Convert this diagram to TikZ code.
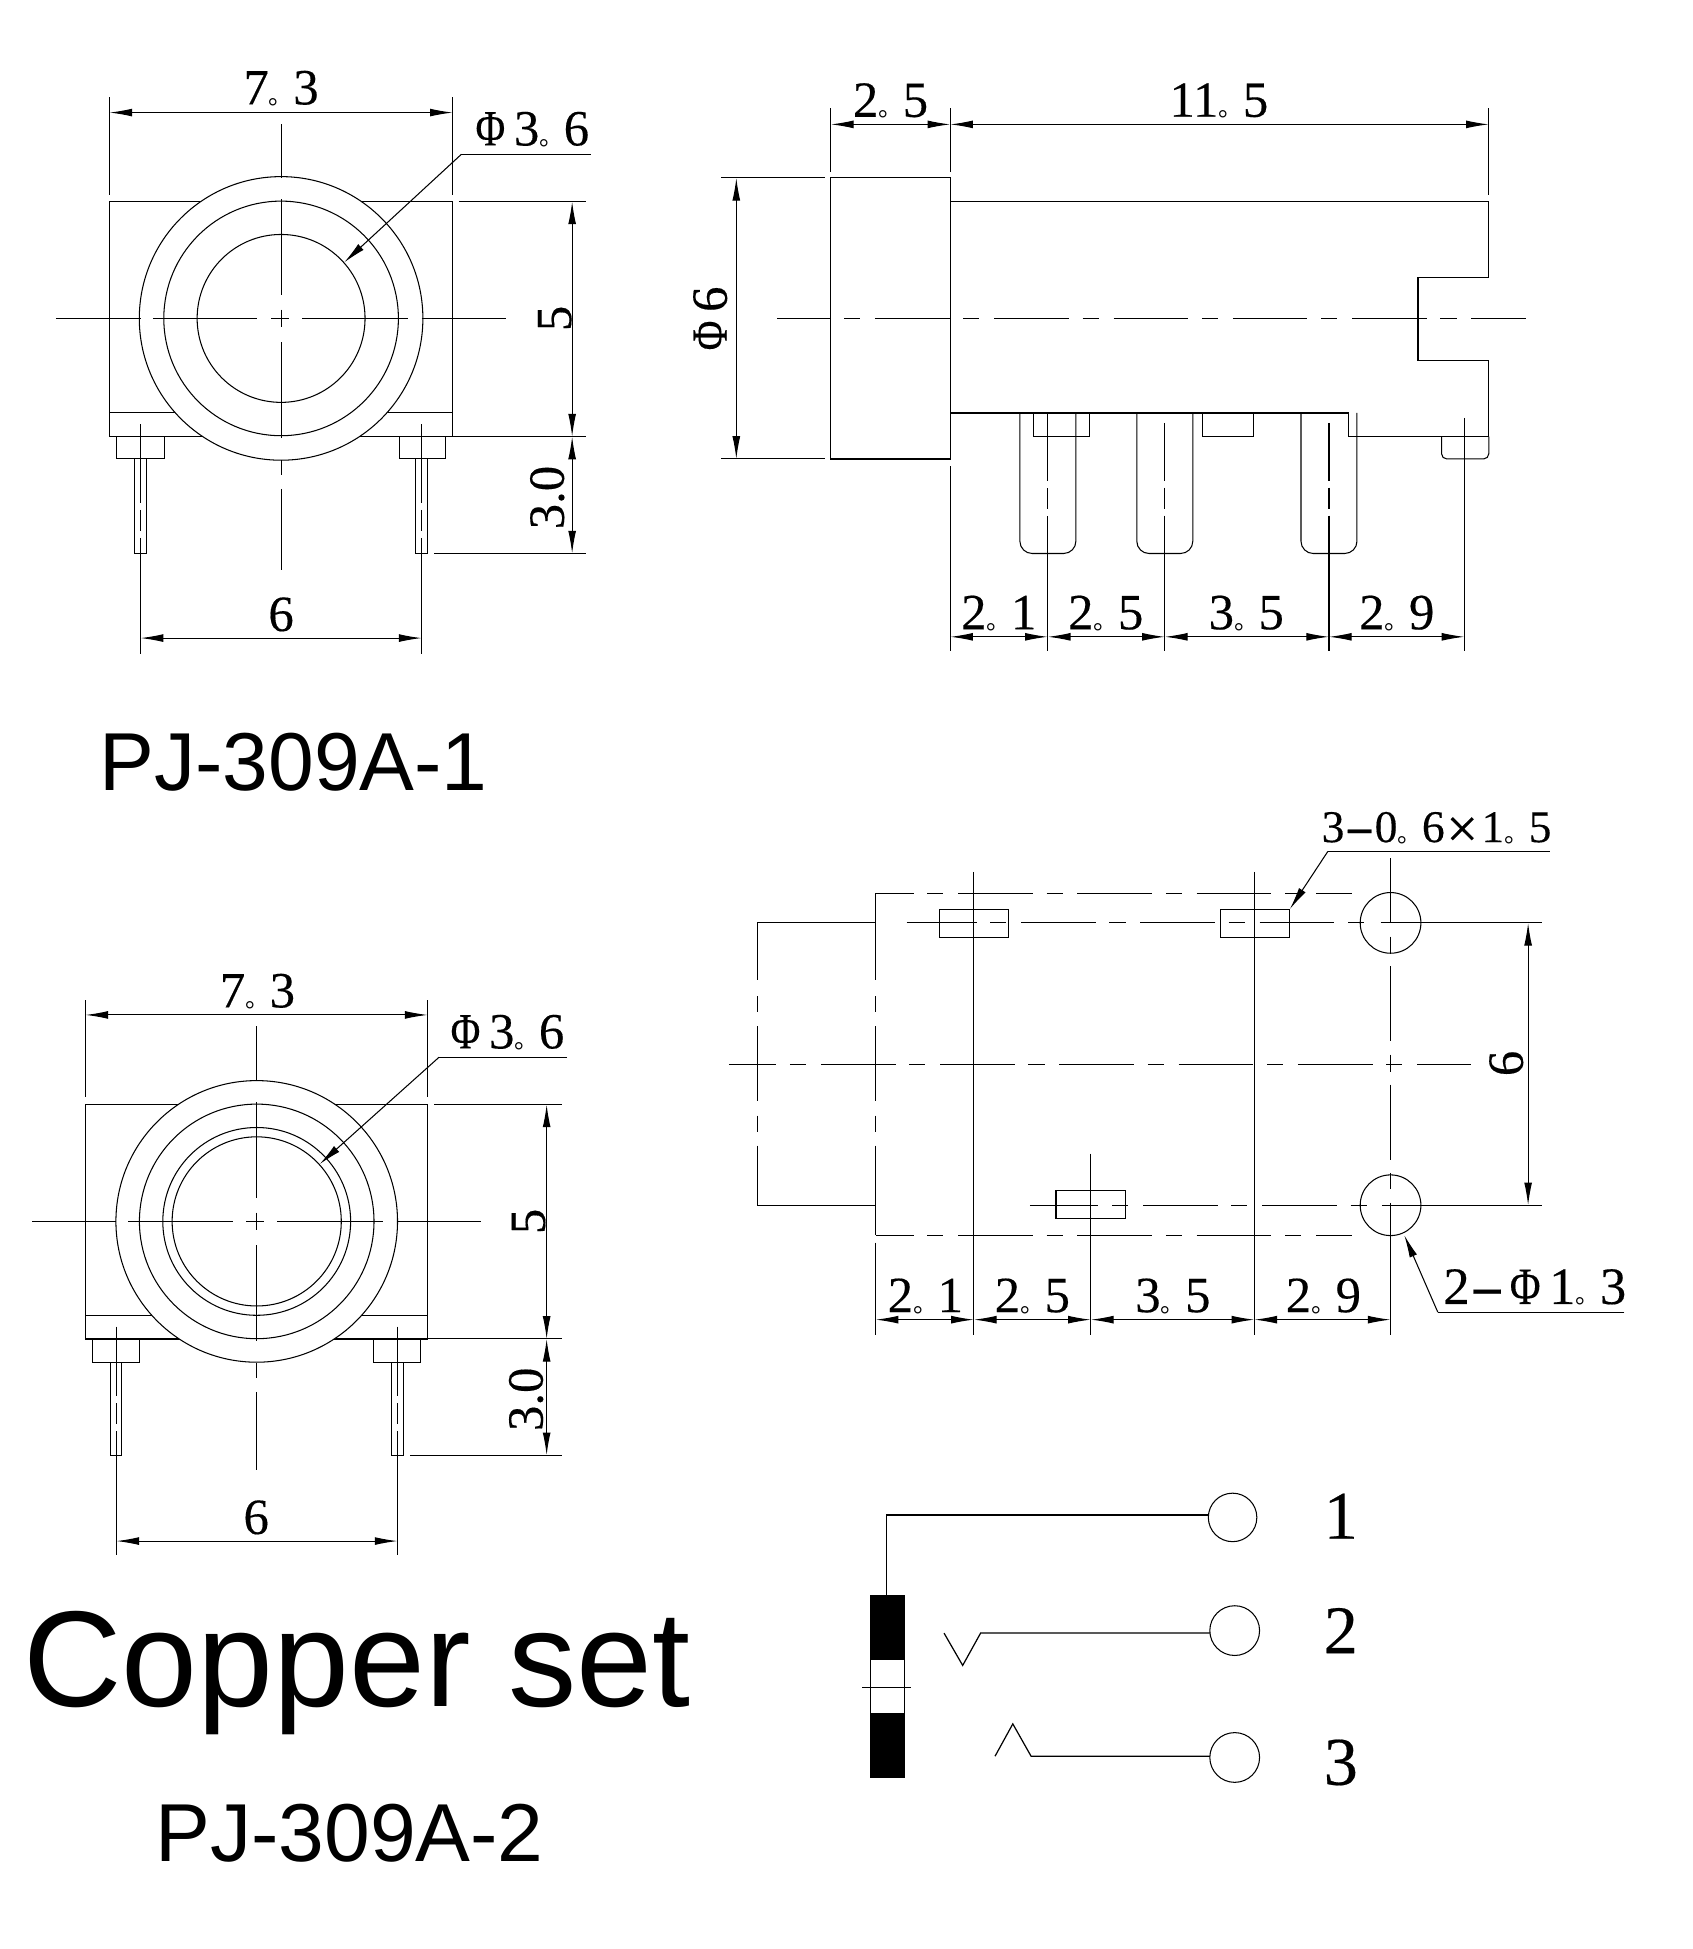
\documentclass[tikz,border=0pt]{standalone}
\usepackage{fontspec}
\setmainfont{Liberation Serif}
\newfontfamily\titlefont{Liberation Sans}
\newfontfamily\dimfont[FakeBold=0.3]{Liberation Serif}
\newfontfamily\cjkfont{Noto Sans CJK SC}
\usetikzlibrary{arrows.meta}
\newcommand{\dotmark}{{\cjkfont\fontsize{14}{14}\selectfont 。}}
\newcommand{\phimark}{\scalebox{0.8}[1]{Φ}\kern5pt}
\newcommand{\hyphmark}{\scalebox{2}[1]{-}}
\tikzset{
    partline/.style={line width=0.7pt},
    thinline/.style={line width=0.6pt},
    dimline/.style={line width=0.6pt, {Latex[length=13pt,width=4.5pt]}-{Latex[length=13pt,width=4.5pt]}},
    leaderline/.style={line width=0.6pt, -{Latex[length=13pt,width=4.5pt]}},
    centerline/.style={line width=0.6pt, dash pattern=on 42.7pt off 7.8pt on 9.2pt off 8.5pt},
    pinaxis/.style={line width=0.6pt, dash pattern=on #1 off 4pt on 12pt off 4pt on 120pt off 0pt},
    dimtext/.style={font=\dimfont\fontsize{29}{29}\selectfont, inner sep=0pt},
    pintext/.style={font=\dimfont\fontsize{39}{39}\selectfont, inner sep=0pt},
    titletext/.style={font=\titlefont\fontsize{47}{47}\selectfont, inner sep=0pt}
}
\begin{document}
\begin{tikzpicture}[x=0.025cm, y=-0.025cm]
    \useasboundingbox (0, 0) rectangle (1361, 1567);

    % front view, first version
    \draw[partline] (88, 162) rectangle (364, 351);
    \draw[thinline] (88, 332) -- (364, 332);
    \draw[thinline, fill=white] (226, 256) circle [radius=114];
    \draw[thinline] (226, 256) circle [radius=94.3];
    \draw[thinline] (226, 256) circle [radius=67.5];
    \draw[thinline] (94, 351) rectangle (132, 369);
    \draw[thinline] (321, 351) rectangle (358, 369);
    \draw[thinline] (108, 369) rectangle (118, 445);
    \draw[thinline] (334, 369) rectangle (344, 445);
    \foreach \ya/\yb in {100/143, 160/237, 249/263, 275/352, 370/382, 393/458} {
        \draw[thinline] (226, \ya) -- (226, \yb);
    }
    \foreach \xa/\xb in {45/113, 123/207, 218/232, 243/328, 339/407} {
        \draw[thinline] (\xa, 256) -- (\xb, 256);
    }
    \draw[pinaxis=45pt] (113, 341) -- (113, 526);
    \draw[pinaxis=45pt] (339, 341) -- (339, 526);
    \draw[thinline] (88, 78) -- (88, 157);
    \draw[thinline] (364, 78) -- (364, 157);
    \draw[thinline] (369, 162) -- (471, 162);
    \draw[thinline] (364, 351) -- (471, 351);
    \draw[thinline] (349, 445) -- (471, 445);
    \draw[dimline] (88, 90.5) -- (364, 90.5);
    \draw[dimline] (460, 162) -- (460, 351);
    \draw[dimline] (460, 351) -- (460, 445);
    \draw[dimline] (113, 513) -- (339, 513);
    \draw[thinline] (475, 124) -- (371, 124);
    \draw[leaderline] (371, 124) -- (276.7, 211);
    \node[dimtext] (widthA) at (226, 71) {7\dotmark 3};
    \node[dimtext] (boreA) at (428, 104) {\phimark 3\dotmark 6};
    \node[dimtext, rotate=90] (heightA) at (446, 256) {5};
    \node[dimtext, rotate=90] (pinA) at (440, 400) {3.0};
    \node[dimtext] (spanA) at (226, 494) {6};
    \node[titletext] (titleA) at (236, 613) {PJ-309A-1};

    % side view
    \draw[partline] (668, 143) rectangle (764, 369);
    \draw[partline] (764, 162) -- (1197, 162) -- (1197, 223) -- (1140, 223) -- (1140, 290)
        -- (1197, 290) -- (1197, 351) -- (1084, 351) -- (1084, 332) -- (764, 332);
    \draw[thinline, rounded corners=3pt] (1159, 351) -- (1159, 369) -- (1197, 369) -- (1197, 351);
    \draw[thinline] (831, 332) rectangle (876, 351);
    \draw[thinline] (967, 332) rectangle (1008, 351);
    \foreach \pinx in {820, 914, 1046} {
        \draw[thinline, rounded corners=7pt] (\pinx, 332) -- (\pinx, 445) -- (\pinx+45, 445) -- (\pinx+45, 332);
    }
    \draw[centerline, dash phase=12.4pt] (625, 256) -- (1227, 256);
    \draw[pinaxis=39pt] (842.4, 332) -- (842.4, 523);
    \draw[pinaxis=33pt] (936.5, 340) -- (936.5, 523);
    \draw[pinaxis=33pt] (1068.5, 340) -- (1068.5, 523);
    \draw[thinline] (1177.4, 336) -- (1177.4, 523);
    \draw[thinline] (668, 87) -- (668, 138);
    \draw[thinline] (764, 87) -- (764, 138);
    \draw[thinline] (1197, 87) -- (1197, 157);
    \draw[thinline] (580, 143) -- (663, 143);
    \draw[thinline] (580, 369) -- (663, 369);
    \draw[thinline] (764, 375) -- (764, 523);
    \draw[dimline] (668, 100) -- (764, 100);
    \draw[dimline] (764, 100) -- (1197, 100);
    \draw[dimline] (592, 143) -- (592, 369);
    \draw[dimline] (764, 512) -- (842.4, 512);
    \draw[dimline] (842.4, 512) -- (936.5, 512);
    \draw[dimline] (936.5, 512) -- (1068.5, 512);
    \draw[dimline] (1068.5, 512) -- (1177.4, 512);
    \node[dimtext] (collar) at (716, 81) {2\dotmark 5};
    \node[dimtext] (body) at (980, 81) {11\dotmark 5};
    \node[dimtext, rotate=90] (head) at (571, 256) {\phimark 6};
    \node[dimtext] (sideA) at (803, 493) {2\dotmark 1};
    \node[dimtext] (sideB) at (889, 493) {2\dotmark 5};
    \node[dimtext] (sideC) at (1002, 493) {3\dotmark 5};
    \node[dimtext] (sideD) at (1123, 493) {2\dotmark 9};

    % front view, copper set
    \draw[partline] (68.7, 888) rectangle (343.8, 1076.5);
    \draw[thinline] (68.7, 1057.6) -- (343.8, 1057.6);
    \draw[thinline, fill=white] (206.4, 982) circle [radius=113.2];
    \draw[thinline] (206.4, 982) circle [radius=94.3];
    \draw[thinline] (206.4, 982) circle [radius=75.5];
    \draw[thinline] (206.4, 982) circle [radius=68];
    \draw[thinline] (74.4, 1076.5) rectangle (112.3, 1095.7);
    \draw[thinline] (300.2, 1076.5) rectangle (338.4, 1095.7);
    \draw[thinline] (88.7, 1095.7) rectangle (98, 1170);
    \draw[thinline] (314.8, 1095.7) rectangle (324.7, 1170);
    \foreach \ya/\yb in {825/869, 886/963, 975/989, 1001/1078, 1096/1108, 1119/1182} {
        \draw[thinline] (206.4, \ya) -- (206.4, \yb);
    }
    \foreach \xa/\xb in {26/93, 103/187, 198/212, 223/308, 319/387} {
        \draw[thinline] (\xa, 982) -- (\xb, 982);
    }
    \draw[pinaxis=40pt] (93.5, 1066.5) -- (93.5, 1250.6);
    \draw[pinaxis=40pt] (319.6, 1066.5) -- (319.6, 1250.6);
    \draw[thinline] (68.7, 804) -- (68.7, 882);
    \draw[thinline] (343.8, 804) -- (343.8, 882);
    \draw[thinline] (349, 888) -- (451.6, 888);
    \draw[thinline] (343.8, 1076.5) -- (451.6, 1076.5);
    \draw[thinline] (330, 1170) -- (451.6, 1170);
    \draw[dimline] (68.7, 816) -- (343.8, 816);
    \draw[dimline] (439.5, 888) -- (439.5, 1076.5);
    \draw[dimline] (439.5, 1076.5) -- (439.5, 1170);
    \draw[dimline] (93.5, 1239) -- (319.6, 1239);
    \draw[thinline] (456, 850) -- (353, 850);
    \draw[leaderline] (353, 850) -- (257, 936);
    \node[dimtext] (widthB) at (207, 797) {7\dotmark 3};
    \node[dimtext] (boreB) at (408, 830) {\phimark 3\dotmark 6};
    \node[dimtext, rotate=90] (heightB) at (425, 982) {5};
    \node[dimtext, rotate=90] (pinB) at (423, 1125) {3.0};
    \node[dimtext] (spanB) at (206, 1220) {6};
    \node[titletext, font=\titlefont\fontsize{78}{78}\selectfont, anchor=base] (copper) at (287, 1372) {Copper set};
    \node[titletext] (titleB) at (281, 1474) {PJ-309A-2};

    % footprint
    \draw[thinline] (704, 742) -- (609, 742);
    \draw[thinline] (704, 969) -- (609, 969);
    \foreach \ya/\yb in {742/788, 801/814, 825/885, 897/910, 921/969} {
        \draw[thinline] (609, \ya) -- (609, \yb);
    }
    \foreach \ya/\yb in {718/788, 801/814, 825/885, 897/910, 921/993, 999/1073} {
        \draw[thinline] (704, \ya) -- (704, \yb);
    }
    \draw[centerline, dash phase=21pt] (704, 718) -- (1087, 718);
    \draw[centerline, dash phase=21pt] (704, 993) -- (1087, 993);
    \draw[thinline] (783, 701) -- (783, 1073);
    \draw[thinline] (1008.5, 701) -- (1008.5, 1073);
    \draw[thinline] (877, 927.5) -- (877, 1073);
    \foreach \ya/\yb in {690/742, 753/766, 777/837, 848/862, 872/933, 943/956, 967/1073} {
        \draw[thinline] (1118, \ya) -- (1118, \yb);
    }
    \draw[thinline] (755, 731) rectangle (811, 754);
    \draw[thinline] (981, 731) rectangle (1037, 754);
    \draw[thinline] (849, 957) rectangle (905, 980);
    \draw[thinline] (1118, 742) circle [radius=24.4];
    \draw[thinline] (1118, 969) circle [radius=24.4];
    \draw[centerline, dash phase=2.8pt] (729, 742) -- (1098, 742);
    \draw[thinline] (1110, 742) -- (1240, 742);
    \draw[centerline, dash phase=3.5pt] (828, 969) -- (1100, 969);
    \draw[thinline] (1111, 969) -- (1240, 969);
    \draw[centerline, dash phase=15.6pt] (586, 856) -- (1183, 856);
    \draw[dimline] (1228.6, 742) -- (1228.6, 969);
    \draw[dimline] (704, 1061) -- (783, 1061);
    \draw[dimline] (783, 1061) -- (877, 1061);
    \draw[dimline] (877, 1061) -- (1008.5, 1061);
    \draw[dimline] (1008.5, 1061) -- (1118, 1061);
    \draw[thinline] (1246, 684.5) -- (1067.6, 684.5);
    \draw[leaderline] (1067.6, 684.5) -- (1037, 731);
    \draw[thinline] (1306, 1055) -- (1156, 1055);
    \draw[leaderline] (1156, 1055) -- (1129, 993);
    \node[dimtext, font=\dimfont\fontsize{26}{26}\selectfont] (slot) at (1155, 667)
        {3\hyphmark 0\dotmark 6\kern1pt\raisebox{-3pt}{\fontsize{32}{32}\selectfont ×}\kern2pt 1\dotmark 5};
    \node[dimtext, font=\dimfont\fontsize{30}{30}\selectfont] (hole) at (1234, 1035) {2\hyphmark\kern3pt\phimark 1\dotmark 3};
    \node[dimtext, rotate=90] (rowspan) at (1211, 855) {6};
    \node[dimtext] (padA) at (744, 1042) {2\dotmark 1};
    \node[dimtext] (padB) at (830, 1042) {2\dotmark 5};
    \node[dimtext] (padC) at (943, 1042) {3\dotmark 5};
    \node[dimtext] (padD) at (1064, 1042) {2\dotmark 9};

    % schematic
    \draw[thinline] (700, 1283) rectangle (727, 1429);
    \fill (700, 1283) rectangle (727, 1335);
    \fill (700, 1377) rectangle (727, 1429);
    \draw[thinline] (693.3, 1356.4) -- (732.7, 1356.4);
    \draw[thinline] (991, 1220) circle [radius=19.5];
    \draw[thinline] (992.7, 1311) circle [radius=20];
    \draw[thinline] (992.7, 1413) circle [radius=20];
    \draw[partline] (713, 1283) -- (713, 1218) -- (971.5, 1218);
    \draw[partline] (759, 1313) -- (774, 1339) -- (788.4, 1313) -- (972.7, 1313);
    \draw[partline] (800, 1412) -- (814.3, 1386) -- (829, 1412) -- (972.7, 1412);
    \node[pintext] (termA) at (1078, 1219) {1};
    \node[pintext] (termB) at (1078, 1311) {2};
    \node[pintext] (termC) at (1078, 1417) {3};
\end{tikzpicture}
\end{document}
